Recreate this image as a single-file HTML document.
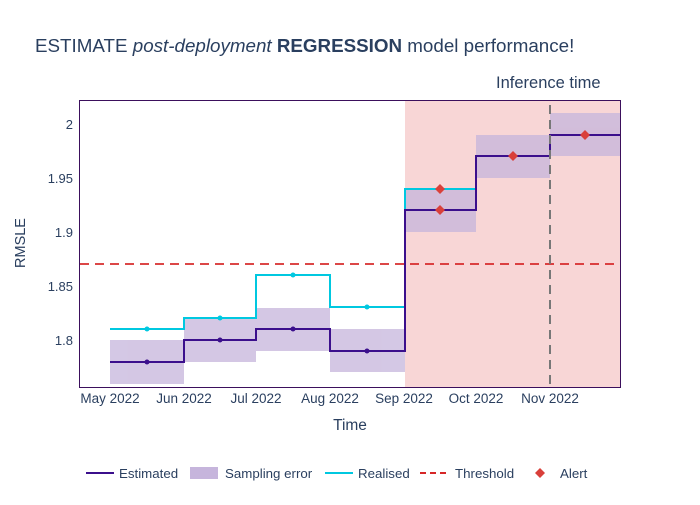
<!DOCTYPE html>
<html><head><meta charset="utf-8"><style>
body{margin:0;background:#fff;}
text{font-family:"Liberation Sans",sans-serif;fill:#2a3f5f;}
</style></head><body>
<svg width="700" height="500" xmlns="http://www.w3.org/2000/svg">
<rect width="700" height="500" fill="#fff"/>
<text x="35" y="52" font-size="18.8">ESTIMATE <tspan font-style="italic">post-deployment</tspan> <tspan font-weight="bold">REGRESSION</tspan> model performance!</text>
<text x="496" y="88" font-size="16.5">Inference time</text>
<rect x="405" y="100" width="215" height="287" fill="#f5c4c4" opacity="0.7"/>
<g fill="#c6b5dc" opacity="0.75">
<rect x="110" y="340" width="74" height="44"/>
<rect x="184" y="318" width="72" height="44"/>
<rect x="256" y="308" width="74" height="43"/>
<rect x="330" y="329" width="75" height="43"/>
<rect x="405" y="189" width="71" height="43"/>
<rect x="476" y="135" width="74" height="43"/>
<rect x="550" y="113" width="70" height="43"/>
</g>
<line x1="80" y1="264" x2="620" y2="264" stroke="#d62728" stroke-width="2" stroke-dasharray="9,6" opacity="0.85"/>
<polyline fill="none" stroke="#00c8e0" stroke-width="2" points="110,329 184,329 184,318 256,318 256,275 330,275 330,307 405,307 405,189 476,189"/>
<g fill="#00c8e0"><circle cx="147" cy="329" r="2.5"/><circle cx="220" cy="318" r="2.5"/><circle cx="293" cy="275" r="2.5"/><circle cx="367" cy="307" r="2.5"/></g>
<polyline fill="none" stroke="#3b0f8c" stroke-width="2" points="110,362 184,362 184,340 256,340 256,329 330,329 330,351 405,351 405,210 476,210 476,156 550,156 550,135 620,135"/>
<g fill="#3b0f8c"><circle cx="147" cy="362" r="2.5"/><circle cx="220" cy="340" r="2.5"/><circle cx="293" cy="329" r="2.5"/><circle cx="367" cy="351" r="2.5"/></g>
<line x1="550" y1="105" x2="550" y2="387" stroke="#777" stroke-width="2" stroke-dasharray="9,6"/>
<g fill="#d9403a">
<path d="M440,184 l5,5 l-5,5 l-5,-5z"/><path d="M440,205 l5,5 l-5,5 l-5,-5z"/>
<path d="M513,151 l5,5 l-5,5 l-5,-5z"/><path d="M585,130 l5,5 l-5,5 l-5,-5z"/>
</g>
<rect x="79.5" y="100.5" width="541" height="287" fill="none" stroke="#3b0f5c" stroke-width="1"/>
<g font-size="13" text-anchor="end">
<text x="73" y="129">2</text><text x="73" y="183">1.95</text><text x="73" y="237">1.9</text>
<text x="73" y="291">1.85</text><text x="73" y="345">1.8</text>
</g>
<text transform="translate(25,243) rotate(-90)" font-size="14.5" text-anchor="middle">RMSLE</text>
<g font-size="13.5" text-anchor="middle">
<text x="110" y="403">May 2022</text><text x="184" y="403">Jun 2022</text><text x="256" y="403">Jul 2022</text>
<text x="330" y="403">Aug 2022</text><text x="404" y="403">Sep 2022</text><text x="476" y="403">Oct 2022</text><text x="550" y="403">Nov 2022</text>
</g>
<text x="350" y="430" font-size="15.5" text-anchor="middle">Time</text>
<g font-size="13.3">
<line x1="86" y1="473" x2="114" y2="473" stroke="#3b0f8c" stroke-width="2"/><text x="119" y="478">Estimated</text>
<rect x="190" y="467" width="28" height="12" fill="#c6b5dc"/><text x="225" y="478">Sampling error</text>
<line x1="325" y1="473" x2="353" y2="473" stroke="#00c8e0" stroke-width="2"/><text x="358" y="478">Realised</text>
<line x1="420" y1="473" x2="448" y2="473" stroke="#d62728" stroke-width="2" stroke-dasharray="6,4"/><text x="455" y="478">Threshold</text>
<path d="M540,468 l5,5 l-5,5 l-5,-5z" fill="#d9403a"/><text x="560" y="478">Alert</text>
</g>
</svg>
</body></html>
